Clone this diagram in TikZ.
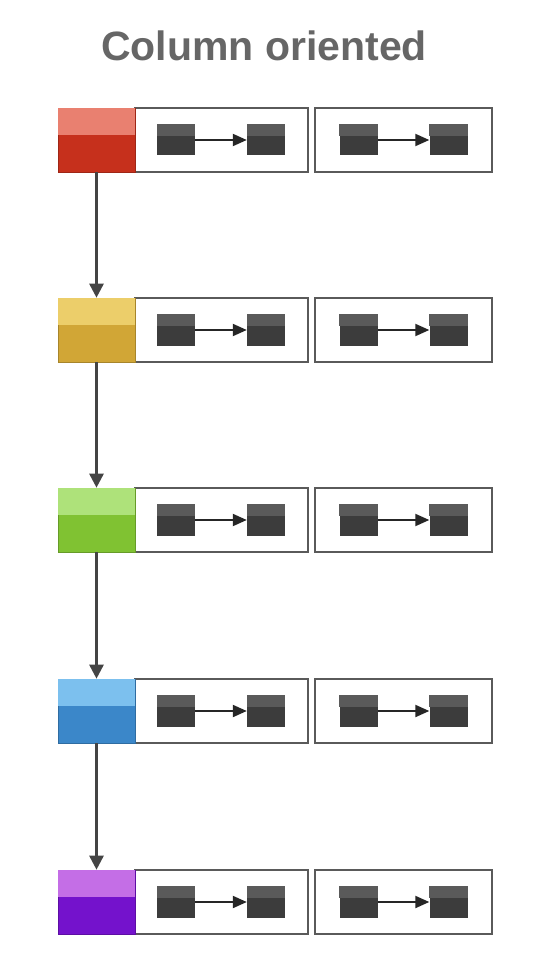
\documentclass[tikz,border=0pt]{standalone}
\usepackage{fontspec}
\setmainfont{Liberation Sans}
\usetikzlibrary{arrows.meta,calc}
\definecolor{redL}{HTML}{E98070}\definecolor{redD}{HTML}{C6301C}
\definecolor{yelL}{HTML}{ECCE6A}\definecolor{yelD}{HTML}{D1A636}
\definecolor{grnL}{HTML}{AEE27A}\definecolor{grnD}{HTML}{80C232}
\definecolor{bluL}{HTML}{7CC0EE}\definecolor{bluD}{HTML}{3B87C9}
\definecolor{purL}{HTML}{C46EE6}\definecolor{purD}{HTML}{7412CC}
\definecolor{titlegray}{HTML}{666666}
\definecolor{boxline}{HTML}{5A5A5A}
\definecolor{darkL}{HTML}{5A5A5A}\definecolor{darkD}{HTML}{3C3C3C}
\definecolor{arrowgray}{HTML}{444444}
\tikzset{
  keybox/.style={draw=#1!80!black, line width=0.6pt, fill=#1, minimum width=77pt, minimum height=64pt, inner sep=0pt},
  cellbox/.style={draw=boxline, line width=2pt, fill=white, minimum height=64pt, inner sep=0pt},
  darksq/.style={fill=darkD, minimum width=38pt, minimum height=31pt, inner sep=0pt},
  inarrow/.style={draw=black!85, line width=2pt, -{Triangle[length=14pt,width=12pt]}},
  varrow/.style={draw=arrowgray, line width=2.6pt, -{Triangle[length=14pt,width=14pt]}},
  titlestyle/.style={font=\fontsize{41}{45}\selectfont\bfseries, text=titlegray, inner sep=0pt}
}
\begin{document}
\begin{tikzpicture}[x=1pt,y=-1pt]
\useasboundingbox (0,0) rectangle (534,968);
\node[titlestyle, anchor=base] (title) at (264,61) {Column oriented};
\foreach \i/\y/\lt/\dk in {1/108/redL/redD, 2/298/yelL/yelD, 3/488/grnL/grnD, 4/679/bluL/bluD, 5/870/purL/purD} {
  \node[cellbox, minimum width=173pt] (ca\i) at (221.5,{\y+32}) {};
  \node[cellbox, minimum width=177pt] (cb\i) at (403.5,{\y+32}) {};
  \node[keybox=\dk] (k\i) at (96.5,{\y+32}) {};
  \fill[\lt] ($(k\i.north west)+(0.3,0.3)$) rectangle ($(k\i.north east)+(-0.3,27)$);
  \node[darksq] (a\i) at (176,{\y+32}) {};
  \node[darksq] (b\i) at (266,{\y+32}) {};
  \node[darksq] (c\i) at (358.5,{\y+32}) {};
  \node[darksq] (d\i) at (448.5,{\y+32}) {};
  \foreach \n in {a,b,c,d} {
    \fill[darkL] (\n\i.north west) rectangle ($(\n\i.north east)+(0,12)$);
  }
  \draw[inarrow] (a\i.east) -- (b\i.west);
  \draw[inarrow] (c\i.east) -- (d\i.west);
}
\foreach \i/\j in {1/2,2/3,3/4,4/5} {
  \draw[varrow] (k\i.south) -- (k\j.north);
}
\end{tikzpicture}
\end{document}
